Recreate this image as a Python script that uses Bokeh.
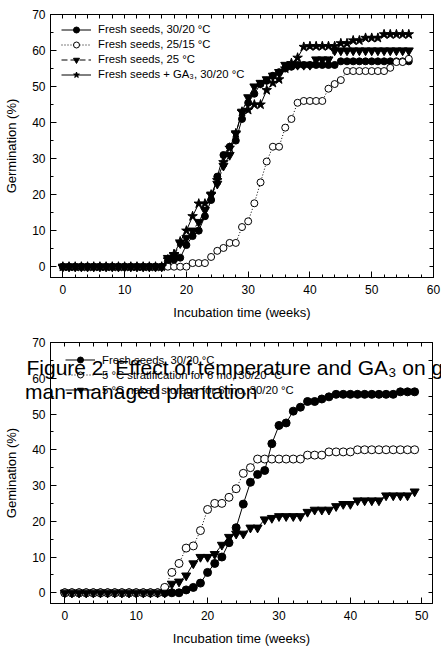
from bokeh.plotting import figure
from bokeh.models import (Range1d, LinearAxis, SingleIntervalTicker, FixedTicker, Legend,
                          LegendItem, Label, GridBox)
from bokeh.layouts import column
from bokeh.embed import file_html
from bokeh.resources import INLINE

FONT = "Liberation Sans"

# ---------------- top panel data ----------------
top_weeks = list(range(0, 57))
top_fresh_3020 = [0] * 17 + [1.5, 2, 2.5, 6, 8.5, 10, 14, 18.5, 25, 31, 33.3, 35, 41, 45.5,
                             48, 50.7, 51.6, 53, 54, 55, 55.5] + [56] * 7 + [57] * 12
top_fresh_2515 = [0] * 21 + [1, 1, 1, 2.7, 4.4, 5.2, 6.6, 6.6, 11, 12.6, 17.6, 23.4, 29.2,
                             33.3, 33.3, 38.6, 41, 45.5, 46, 46, 46, 46, 49.4, 50.7, 51.8] \
    + [54.3] * 7 + [55.2, 56.8, 56.8, 57.7]
top_fresh_25 = [0] * 17 + [2.4, 3, 6.5, 8, 10, 12.4, 15.7, 20, 23, 28, 31, 37, 43, 47, 50,
                           51, 52, 53, 54, 56, 56, 56, 56, 56] + [57.5] * 3 + [60] * 13
top_fresh_ga3 = [0] * 17 + [2, 3.5, 7, 10, 14, 17.5, 17.5, 20, 24, 29, 33, 37, 43, 43.5,
                            45, 45, 49, 51, 52, 55, 56.5, 58, 61] + [61.2] * 5 + [62] * 2 \
    + [62.8] * 2 + [63.5] * 3 + [64.5] * 5
top_labels = ["Fresh seeds, 30/20 \u00b0C", "Fresh seeds, 25/15 \u00b0C",
              "Fresh seeds, 25 \u00b0C", "Fresh seeds + GA\u2083, 30/20 \u00b0C"]

# ---------------- bottom panel data ----------------
bot_weeks = list(range(0, 50))
bot_fresh_3020 = [0] * 17 + [0.8, 1.5, 2.7, 5.7, 8.2, 10, 14, 18.2, 24.8, 30.9, 33.1, 34.2,
                             41.7, 46.8, 47.5, 50.8, 51.9, 53.5, 53.5, 54.2, 54.8] \
    + [55.5] * 9 + [56.2] * 3
bot_strat = [0] * 14 + [1.5, 5.7, 8.2, 12.5, 13.1, 17.4, 23.3, 25, 25, 26.7, 29.1, 33.4, 35] \
    + [37.4] * 7 + [38.5] * 3 + [39.4] * 4 + [40] * 9
bot_naked = [0] * 15 + [2.5, 3.1, 4.8, 8.2, 10, 10, 10.8, 13.4, 15.6, 16.5, 16.5, 18.2, 18.2,
                        20.5, 20.9] + [21.4] * 4 + [22.6] + [23.2] * 3 + [24.2] + [24.8] * 2 \
    + [25.8] * 4 + [27.2] * 4 + [28.3]
bot_labels = ["Fresh seeds, 30/20 \u00b0C", "5 \u00b0C stratification for 6 mo, 30/20 \u00b0C",
              "5 \u00b0C naked storage for 6 mo, 30/20 \u00b0C"]

title_lines = ["Figure 2. Effect of temperature and GA\u2083 on germination",
               "man-managed plantation"]


def style_axis(ax, standoff, label_standoff):
    ax.axis_line_color = "black"
    ax.axis_line_width = 1
    ax.major_tick_line_color = "black"
    ax.minor_tick_line_color = "black"
    ax.major_tick_in = 6
    ax.major_tick_out = 0
    ax.minor_tick_in = 3
    ax.minor_tick_out = 0
    ax.major_label_text_font = FONT
    ax.major_label_text_font_size = "12px"
    ax.major_label_text_color = "black"
    ax.major_label_standoff = standoff
    ax.axis_label_text_font = FONT
    ax.axis_label_text_font_size = "13px"
    ax.axis_label_text_font_style = "normal"
    ax.axis_label_text_color = "black"
    ax.axis_label_standoff = label_standoff


def mirror_axis(minor_positions):
    ax = LinearAxis(ticker=FixedTicker(ticks=[], minor_ticks=minor_positions))
    ax.axis_line_color = "black"
    ax.minor_tick_line_color = "black"
    ax.minor_tick_in = 4
    ax.minor_tick_out = 0
    ax.major_tick_in = 0
    ax.major_tick_out = 0
    ax.major_label_standoff = 0
    return ax


def make_fig(height, xr, b_top, b_bottom, b_right, ylabel):
    p = figure(width=441, height=height, x_range=Range1d(*xr), y_range=Range1d(-3, 70),
               output_backend="svg", toolbar_location=None,
               min_border_left=50, min_border_right=b_right,
               min_border_top=b_top, min_border_bottom=b_bottom)
    p.xgrid.visible = False
    p.ygrid.visible = False
    p.outline_line_color = "black"
    p.outline_line_width = 1
    p.xaxis.ticker = SingleIntervalTicker(interval=10, num_minor_ticks=5)
    p.yaxis.ticker = SingleIntervalTicker(interval=10, num_minor_ticks=2)
    p.xaxis.axis_label = "Incubation time (weeks)"
    p.yaxis.axis_label = ylabel
    for ax in p.xaxis:
        style_axis(ax, 7, 8)
    for ax in p.yaxis:
        style_axis(ax, 5, 10)
    p.add_layout(mirror_axis(list(range(-2, int(xr[1]) + 1, 2))), "above")
    p.add_layout(mirror_axis(list(range(0, 71, 5))), "right")
    return p


def make_legend(items, loc):
    return Legend(items=items, location=loc, padding=6, margin=0, spacing=0,
                  glyph_width=30, glyph_height=15, label_height=15, label_standoff=7,
                  label_text_font=FONT, label_text_font_size="11.3px",
                  label_text_color="black", border_line_color=None,
                  background_fill_alpha=0)


# ---------------- top figure ----------------
p1 = make_fig(322, (-2, 60), 14, 45, 8, "Germination (%)")

top_specs = [
    (top_fresh_3020, "circle", 7, "black", "solid"),
    (top_fresh_2515, "circle", 7, "white", "1 2"),
    (top_fresh_25, "inverted_triangle", 9, "black", "6 3"),
    (top_fresh_ga3, "star", 10, "black", "solid"),
]
items = []
for (vals, mk, sz, fc, dash), lab in zip(top_specs, top_labels):
    lr = p1.line(top_weeks, vals, line_color="black", line_width=1, line_dash=dash)
    sr = p1.scatter(top_weeks, vals, marker=mk, size=sz, fill_color=fc, line_color="black",
                    line_width=1)
    items.append(LegendItem(label=lab, renderers=[lr, sr]))
p1.add_layout(make_legend(items, (11, 195.5)))

# ---------------- bottom figure ----------------
p2 = make_fig(328, (-2, 51.5), 20, 47, 9, "Gemination (%)")

bot_specs = [
    (bot_fresh_3020, "circle", 8, "black", "solid"),
    (bot_strat, "circle", 8, "white", "1 2"),
    (bot_naked, "inverted_triangle", 9, "black", "solid"),
]
items2 = []
for (vals, mk, sz, fc, dash), lab in zip(bot_specs, bot_labels):
    lr = p2.line(bot_weeks, vals, line_color="black", line_width=1, line_dash=dash)
    sr = p2.scatter(bot_weeks, vals, marker=mk, size=sz, fill_color=fc, line_color="black",
                    line_width=1)
    items2.append(LegendItem(label=lab, renderers=[lr, sr]))
p2.add_layout(make_legend(items2, (15, 206)))

# ---------------- overlapping caption (transparent overlay figure) ----------------
ov = figure(width=441, height=328, x_range=Range1d(0, 441), y_range=Range1d(328, 0),
            x_axis_type=None, y_axis_type=None, output_backend="svg", title=None,
            toolbar_location=None, min_border=0, outline_line_color=None,
            background_fill_color=None, border_fill_color=None, frame_align=False)
ov.add_layout(Label(x=26, y=45, text=title_lines[0], text_font=FONT,
                    text_font_size="21px", text_color="black", text_baseline="alphabetic"))
ov.add_layout(Label(x=24.5, y=69, text=title_lines[1], text_font=FONT,
                    text_font_size="21px", text_color="black", text_baseline="alphabetic"))

bottom = GridBox(children=[(p2, 0, 0), (ov, 0, 0)])
layout = column(p1, bottom, spacing=0)
open("out.html", "w").write(file_html(layout, INLINE))
